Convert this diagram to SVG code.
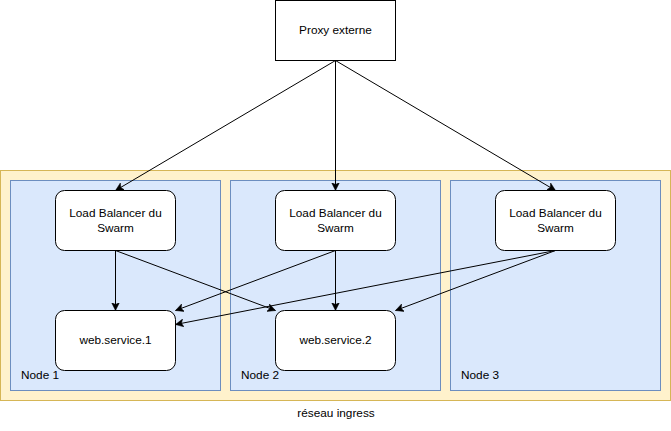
<svg xmlns="http://www.w3.org/2000/svg" width="671" height="431" viewBox="0 0 671 431">
<style>
  .t{font-family:"Liberation Sans",Arial,Helvetica,sans-serif;font-size:11.8px;fill:#000}
  .c{text-anchor:middle}
  .box{fill:#fff;stroke:#000;stroke-width:1}
  .node{fill:#dae8fc;stroke:#6c8ebf;stroke-width:1}
  .edge{stroke:#000;stroke-width:1;fill:none;marker-end:url(#arr)}
</style>
<defs>
  <marker id="arr" markerUnits="userSpaceOnUse" markerWidth="10" markerHeight="10" viewBox="0 0 10 10" refX="8" refY="4" orient="auto">
    <path d="M0,0 L8,4 L0,8 L2,4 Z" fill="#000" stroke="#000" stroke-width="0.5"/>
  </marker>
</defs>
<g id="ingress">
  <rect x="0.5" y="170.5" width="670" height="230" fill="#fff2cc" stroke="#d6b656"/>
  <text class="t c" x="336" y="417">réseau ingress</text>
</g>
<g id="node1">
  <rect class="node" x="10.5" y="180.5" width="210" height="210"/>
  <text class="t" x="21" y="379">Node 1</text>
</g>
<g id="node2">
  <rect class="node" x="230.5" y="180.5" width="210" height="210"/>
  <text class="t" x="241" y="379">Node 2</text>
</g>
<g id="node3">
  <rect class="node" x="450.5" y="180.5" width="210" height="210"/>
  <text class="t" x="461" y="379">Node 3</text>
</g>
<g id="proxy">
  <rect class="box" x="275.5" y="0.5" width="120" height="60"/>
  <text class="t c" x="335.5" y="34">Proxy externe</text>
</g>
<g id="lb1">
  <rect class="box" x="55.5" y="190.5" width="120" height="60" rx="9"/>
  <text class="t c" x="115.5" y="217">Load Balancer du</text>
  <text class="t c" x="115.5" y="232">Swarm</text>
</g>
<g id="lb2">
  <rect class="box" x="275.5" y="190.5" width="120" height="60" rx="9"/>
  <text class="t c" x="335.5" y="217">Load Balancer du</text>
  <text class="t c" x="335.5" y="232">Swarm</text>
</g>
<g id="lb3">
  <rect class="box" x="495.5" y="190.5" width="120" height="60" rx="9"/>
  <text class="t c" x="555.5" y="217">Load Balancer du</text>
  <text class="t c" x="555.5" y="232">Swarm</text>
</g>
<g id="ws1">
  <rect class="box" x="55.5" y="310.5" width="120" height="60" rx="9"/>
  <text class="t c" x="115.5" y="344">web.service.1</text>
</g>
<g id="ws2">
  <rect class="box" x="275.5" y="310.5" width="120" height="60" rx="9"/>
  <text class="t c" x="335.5" y="344">web.service.2</text>
</g>
<g id="connectors">
  <path class="edge" d="M335.5,60.5 L115.5,190.5"/>
  <path class="edge" d="M335.5,60.5 L335.5,190.5"/>
  <path class="edge" d="M335.5,60.5 L555.5,190.5"/>
  <path class="edge" d="M115.5,250.5 L115.5,310.5"/>
  <path class="edge" d="M115.5,250.5 L275.5,310.5"/>
  <path class="edge" d="M335.5,250.5 L335.5,310.5"/>
  <path class="edge" d="M335.5,250.5 L175.5,310.5"/>
  <path class="edge" d="M555.5,250.5 L175.5,324.5"/>
  <path class="edge" d="M555.5,250.5 L395.5,310.5"/>
</g>
</svg>
